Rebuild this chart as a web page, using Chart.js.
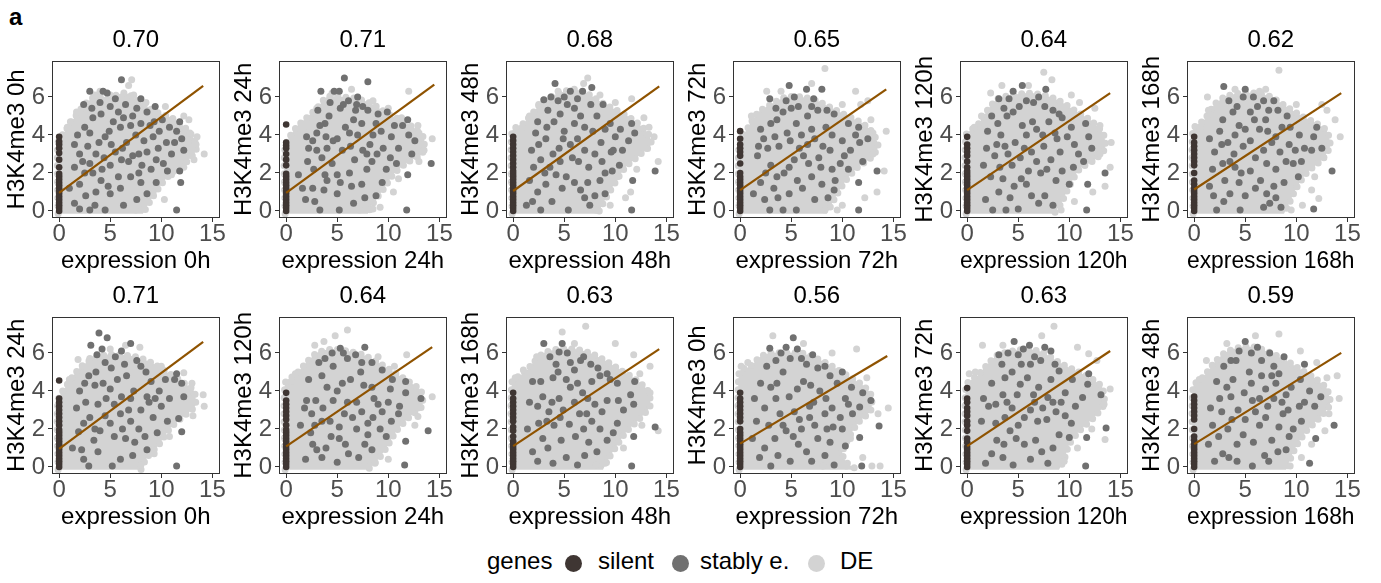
<!DOCTYPE html>
<html>
<head>
<meta charset="utf-8">
<script src="https://cdn.jsdelivr.net/npm/chart.js@4.4.0/dist/chart.umd.min.js"></script>
<style>
  body { margin: 0; background: #fff; width: 1381px; height: 583px; position: relative; overflow: hidden;
         font-family: "Liberation Sans", Arial, sans-serif; }
  canvas.panel { position: absolute; }
  .txt { position: absolute; font-size: 24px; line-height: 28px; color: #000; white-space: nowrap; }
  .dot { position: absolute; width: 17px; height: 17px; border-radius: 50%; }
</style>
</head>
<body>
<div class="txt" style="left:9px;top:3px;font-weight:bold">a</div>
<div id="panels"></div>
<div class="txt" style="left:487px;top:547px">genes</div>
<div class="dot" style="left:565px;top:555px;background:#3F3633"></div>
<div class="txt" style="left:598px;top:547px">silent</div>
<div class="dot" style="left:672px;top:555px;background:#707070"></div>
<div class="txt" style="left:700px;top:547px">stably e.</div>
<div class="dot" style="left:808px;top:555px;background:#D3D3D3"></div>
<div class="txt" style="left:840px;top:547px">DE</div>
<script>
// correlation shown above each panel, row by row
const corr = ['0.70', '0.71', '0.68', '0.65', '0.64', '0.62', '0.71', '0.64', '0.63', '0.56', '0.63', '0.59']
const markLabels = ['H3K4me3 0h', 'H3K4me3 24h', 'H3K4me3 48h', 'H3K4me3 72h', 'H3K4me3 120h', 'H3K4me3 168h',
  'H3K4me3 24h', 'H3K4me3 120h', 'H3K4me3 168h', 'H3K4me3 0h', 'H3K4me3 72h', 'H3K4me3 48h']
const exprLabels = ['expression 0h', 'expression 24h', 'expression 48h', 'expression 72h', 'expression 120h', 'expression 168h',
  'expression 0h', 'expression 24h', 'expression 48h', 'expression 72h', 'expression 120h', 'expression 168h']
const xTicks = [0, 5, 10, 15]
const yTicks = [0, 2, 4, 6]

// linear fit: value at x = 0, last x, value at last x
const fitStart = [0.95, 0.95, 1.05, 1.1, 1.1, 1.13, 0.95, 1.08, 1.1, 1.23, 1.1, 1.2]
const fitEndX = [14.1, 14.5, 14.3, 14.3, 14.0, 14.4, 14.1, 14.3, 14.3, 14.4, 14.0, 14.4]
const fitEndY = [6.58, 6.65, 6.55, 6.4, 6.2, 6.2, 6.58, 6.3, 6.2, 5.84, 6.1, 6.0]

// dense body of the DE genes (outline, x/y pairs)
const core0 = [-0.1, -0.15, -0.1, 3.6, 0.6, 4.2, 1.5, 4.9, 2.5, 5.6, 3.5, 6.0, 5, 6.0, 6.5, 6.2, 8, 5.7, 9.5, 5.2, 11, 4.9, 12.3, 4.4, 13.2, 3.8, 13.4, 3.2, 12.5, 2.6, 11, 2.0, 10, 1.4, 9, 0.6, 8.2, -0.15]
const core1 = [-0.1, -0.15, -0.1, 3.4, 1, 4.4, 2, 4.9, 3, 5.4, 4, 6.0, 5.5, 6.0, 7, 5.9, 8.5, 5.6, 10, 5.1, 11.5, 4.7, 12.7, 4.3, 13.5, 3.8, 13.3, 3.0, 12, 2.6, 10.6, 2.0, 9.6, 1.2, 8.5, 0.4, 8, -0.15]
const core2 = [-0.1, -0.15, -0.1, 4.2, 1, 4.6, 2, 5.2, 3, 5.8, 4.5, 6.2, 6, 6.4, 7.5, 6.1, 9, 5.6, 10.5, 5.2, 12, 4.7, 13.2, 4.1, 13.5, 3.5, 12.5, 3.0, 11, 2.3, 10, 1.5, 9, 0.6, 8.3, -0.15]
const core3 = [-0.1, -0.15, -0.1, 3.4, 0.8, 4.4, 1.8, 5.2, 3, 5.6, 4.5, 6.0, 6, 6.0, 7.5, 5.8, 9, 5.4, 10.5, 5.0, 12, 4.6, 13, 4.1, 13.5, 3.4, 12.8, 2.8, 11.5, 2.3, 10.2, 1.5, 9.2, 0.6, 8.5, -0.15]
const core4 = [-0.1, -0.15, -0.1, 4.0, 1, 4.5, 2, 5.3, 3, 5.9, 4.5, 6.1, 6, 6.2, 7.5, 6.1, 9, 5.8, 10.5, 5.3, 12, 4.8, 13.3, 4.1, 13.5, 3.3, 12.5, 2.7, 11, 2.2, 10, 1.3, 9.2, 0.4, 8.5, -0.15]
const core5 = [-0.1, -0.15, -0.1, 4.3, 1, 4.8, 2, 5.6, 3, 6.0, 4.5, 6.2, 6, 6.2, 7.5, 6.0, 9, 5.5, 10.5, 5.0, 12, 4.6, 13, 4.2, 13.3, 3.4, 12.5, 2.7, 11, 2.0, 10, 1.2, 9.3, 0.4, 8.8, -0.15]
const core6 = [-0.1, -0.15, -0.1, 3.5, 1, 4.5, 2, 5.2, 3, 5.6, 4.5, 5.9, 6, 5.9, 7.5, 5.8, 9, 5.5, 10.5, 5.0, 12, 4.5, 13.2, 4.0, 13.3, 3.2, 12, 2.6, 10.8, 2.0, 9.8, 1.2, 8.6, 0.5, 8, -0.15]
const core7 = [-0.1, -0.15, -0.1, 4.4, 1, 4.9, 2, 5.5, 3, 6.0, 4.5, 6.2, 6, 6.1, 7.5, 5.9, 9, 5.5, 10.5, 5.0, 12, 4.5, 13.2, 4.0, 13.3, 3.2, 12, 2.6, 10.8, 1.9, 9.8, 1.0, 9, 0.4, 8, -0.15]
const core8 = [-0.1, -0.15, -0.1, 4.5, 1, 4.9, 2, 5.5, 3, 6.0, 4.5, 6.2, 6, 6.2, 7.5, 6.0, 9, 5.6, 10.5, 5.1, 12, 4.6, 13.2, 4.0, 13.4, 3.2, 12.3, 2.5, 11, 1.8, 10, 1.0, 9.3, 0.4, 8.8, -0.15]
const core9 = [-0.1, -0.15, -0.1, 5.0, 1, 5.3, 2, 5.8, 3, 6.0, 4.5, 6.0, 6, 6.0, 7.5, 5.7, 9, 5.3, 10.5, 4.8, 12, 4.3, 12.8, 3.8, 12.8, 3.0, 11.5, 2.3, 10.5, 1.4, 10, 0.7, 10.5, 0.2, 11.5, -0.15]
const core10 = [-0.1, -0.15, -0.1, 4.3, 1, 4.8, 2, 5.4, 3, 5.9, 4.5, 6.1, 6, 6.2, 7.5, 6.0, 9, 5.5, 10.5, 5.1, 12, 4.7, 13.2, 4.2, 13.4, 3.3, 12.4, 2.6, 11, 1.9, 10, 1.2, 9.5, 0.4, 9, -0.15]
const core11 = [-0.1, -0.15, -0.1, 4.2, 1, 4.8, 2, 5.5, 3, 6.0, 4.5, 6.3, 6, 6.3, 7.5, 6.0, 9, 5.6, 10.5, 5.1, 12, 4.6, 13, 4.1, 13.3, 3.3, 12.3, 2.6, 11, 1.9, 10, 1.1, 9.4, 0.4, 9, -0.15]

// stably expressed genes (x/y pairs)
const stable0 = [6.1, 6.9, 3.0, 6.3, 4.3, 6.3, 4.7, 6.2, 5.5, 5.9, 8.0, 5.9, 9.4, 5.5, 9.3, 4.7, 11.8, 4.7, 11.5, 4.2, 12.0, 3.8, 12.2, 3.2, 11.3, 3.6, 11.8, 2.1, 11.9, 1.5, 11.5, 0.05, 10.2, 2.5, 10.5, 3.6, 8.9, 4.5, 7.5, 4.0, 6.6, 3.6, 5.0, 2.4, 4.4, 2.8, 3.6, 3.0, 3.0, 2.5, 2.5, 2.0, 2.0, 1.4, 1.5, 2.3, 1.0, 1.2, 3.5, 0.3, 4.5, 0.05, 5.0, 0.9, 6.3, 0.3, 7.0, 1.8, 8.0, 1.5, 5.8, 5.2, 7.2, 5.0, 2.5, 4.4, 3.3, 4.9, 4.1, 5.1, 6.0, 4.4, 4.9, 4.2, 5.5, 3.1, 6.8, 2.6, 7.8, 3.0, 9.7, 3.3, 9.0, 2.2, 8.1, 2.4, 5.8, 1.8, 4.1, 1.6, 3.0, 0.05, 2.0, 0.1, 1.5, 3.5, 10.8, 4.4, 9.8, 4.2, 8.0, 4.6, 2.4, 5.6,
  3.2, 5.4, 4.0, 5.7, 5.0, 5.5, 6.5, 5.6, 7.6, 5.4, 8.6, 5.2, 2.0, 3.0, 2.8, 3.4, 3.9, 3.6, 4.5, 3.9, 5.3, 4.7, 6.3, 4.9, 7.0, 4.5, 8.3, 3.7, 9.2, 3.9, 10.1, 4.8, 11.0, 3.0, 10.6, 2.1, 9.5, 1.5, 8.6, 0.9, 7.6, 0.6, 6.0, 1.2, 4.8, 1.3, 3.6, 1.0, 2.6, 0.8, 1.5, 0.4, 2.3, 2.6, 3.3, 2.0, 4.2, 2.2, 6.1, 2.7, 7.2, 2.9, 8.6, 3.1, 6.2, 3.3, 5.1, 3.5, 3.0, 4.1, 1.8, 4.0, 7.8, 2.0, 9.5, 2.7]
const stable1 = [5.7, 7.0, 8.0, 6.8, 3.4, 6.3, 4.7, 6.3, 5.2, 6.3, 7.0, 6.0, 6.1, 5.8, 7.5, 5.5, 5.3, 5.4, 4.2, 5.0, 6.6, 4.8, 3.0, 4.1, 11.9, 4.8, 11.4, 4.5, 12.0, 4.0, 12.6, 3.7, 10.3, 3.9, 12.3, 3.0, 14.2, 2.5, 11.9, 1.9, 11.8, 0.05, 9.8, 2.2, 9.5, 3.3, 8.2, 3.5, 7.0, 4.0, 5.5, 3.2, 4.5, 2.5, 3.5, 2.8, 1.2, 1.9, 2.6, 1.2, 5.0, 0.9, 5.2, 0.05, 3.3, 0.05, 7.4, 1.4, 8.4, 2.6, 6.2, 2.0, 3.8, 4.6, 2.6, 3.7, 5.8, 4.4, 8.8, 4.6, 9.9, 5.2, 6.8, 5.3, 4.6, 3.7, 2.1, 2.6, 1.9, 0.6, 4.0, 1.6, 6.6, 0.4, 7.9, 3.0,
  3.1, 5.3, 4.3, 5.7, 5.6, 5.6, 6.9, 5.6, 8.0, 5.3, 9.0, 5.1, 2.2, 3.3, 3.0, 3.2, 3.9, 3.9, 5.0, 3.8, 6.2, 4.1, 7.4, 4.6, 8.5, 4.0, 9.3, 4.2, 10.6, 4.5, 11.0, 3.3, 10.8, 2.5, 9.4, 1.5, 8.8, 0.8, 7.7, 0.7, 6.4, 1.3, 5.3, 1.5, 3.7, 1.1, 2.8, 0.5, 1.6, 1.2, 2.7, 2.2, 3.8, 1.9, 5.0, 1.9, 6.7, 2.7, 7.5, 3.2, 8.9, 3.0, 6.3, 3.4, 4.0, 3.3, 2.0, 3.9, 3.3, 4.5, 7.9, 2.2, 10.2, 2.8]
const stable2 = [4.1, 6.7, 5.6, 6.3, 7.7, 6.5, 3.0, 5.85, 5.3, 5.6, 6.0, 5.4, 4.6, 5.1, 4.0, 4.7, 6.6, 5.0, 7.0, 4.4, 2.2, 4.1, 3.2, 3.8, 4.5, 3.3, 5.6, 3.5, 2.7, 2.7, 3.6, 2.3, 4.2, 1.9, 5.2, 1.8, 6.4, 2.6, 7.4, 2.3, 8.0, 3.0, 9.6, 3.1, 11.6, 4.6, 11.3, 3.7, 11.9, 4.1, 13.9, 2.1, 11.7, 1.6, 11.6, 0.05, 9.7, 2.1, 8.5, 1.6, 6.6, 1.1, 3.8, 0.5, 2.7, 0.05, 5.4, 0.05, 9.0, 0.9, 1.6, 1.6, 8.8, 5.6, 9.0, 4.3, 10.0, 3.9, 5.0, 4.2, 3.7, 6.0, 6.8, 6.3, 1.9, 0.5, 7.5, 0.3,
  3.4, 5.3, 4.4, 5.8, 5.0, 6.0, 6.3, 5.9, 7.6, 5.6, 8.2, 5.0, 1.8, 3.2, 2.5, 3.5, 3.9, 3.0, 4.9, 3.8, 6.0, 4.6, 7.8, 4.2, 8.6, 3.6, 9.5, 4.6, 10.5, 4.3, 10.7, 3.2, 10.4, 2.4, 9.0, 2.0, 8.0, 0.8, 7.0, 0.7, 6.0, 1.5, 4.8, 1.2, 3.2, 1.4, 2.4, 1.0, 1.3, 0.3, 2.0, 2.3, 3.1, 2.0, 4.6, 2.6, 5.8, 2.8, 7.0, 3.2, 8.7, 2.6, 6.3, 3.8, 3.3, 4.4, 2.4, 4.7, 7.3, 1.5, 9.8, 3.2]
const stable3 = [4.8, 6.6, 2.9, 5.9, 5.3, 6.0, 6.5, 6.4, 8.0, 6.4, 5.7, 5.5, 4.2, 5.2, 6.6, 5.0, 9.2, 5.1, 2.3, 3.8, 3.4, 3.9, 4.6, 4.1, 5.8, 3.3, 3.0, 2.4, 4.3, 2.0, 5.3, 2.7, 6.7, 2.5, 2.0, 1.5, 3.3, 1.2, 4.8, 0.9, 2.9, 0.05, 4.2, 0.05, 5.5, 0.05, 8.0, 1.4, 9.3, 1.6, 9.8, 2.5, 10.0, 3.7, 11.3, 4.0, 11.6, 4.4, 11.7, 3.6, 12.0, 2.6, 13.4, 2.1, 11.6, 1.5, 11.6, 0.05, 9.2, 1.1, 12.5, 3.8, 6.0, 4.0, 7.3, 3.8, 7.0, 1.8, 1.7, 2.9, 7.6, 5.3, 3.6, 4.8, 8.4, 4.4,
  3.5, 5.4, 4.5, 5.8, 5.0, 5.4, 7.2, 5.9, 7.0, 5.5, 8.5, 5.3, 1.8, 3.4, 2.7, 3.3, 3.8, 3.4, 4.9, 3.7, 5.5, 4.6, 7.0, 4.3, 8.1, 3.4, 9.0, 4.0, 10.6, 4.6, 10.8, 3.2, 10.6, 2.2, 9.0, 2.2, 8.6, 0.7, 7.3, 0.6, 6.1, 1.2, 5.6, 1.6, 3.7, 0.7, 2.4, 0.6, 1.3, 0.9, 2.5, 2.0, 3.6, 1.8, 4.8, 2.3, 6.2, 2.9, 7.7, 2.8, 8.8, 3.2, 6.6, 3.5, 3.0, 4.6, 2.0, 4.3, 7.9, 2.3, 10.2, 2.9]
const stable4 = [4.5, 6.3, 5.4, 6.6, 3.1, 5.9, 7.7, 6.4, 7.0, 6.0, 5.8, 5.8, 4.5, 5.2, 9.0, 5.1, 9.3, 4.9, 2.0, 4.2, 3.3, 4.0, 5.8, 4.0, 6.8, 4.3, 2.7, 2.9, 4.0, 3.0, 5.2, 2.8, 6.3, 3.1, 7.5, 3.4, 8.2, 2.7, 10.5, 3.5, 11.6, 4.6, 11.9, 3.9, 12.2, 3.3, 11.4, 2.6, 13.5, 2.0, 11.8, 1.4, 11.7, 0.05, 8.4, 0.3, 2.5, 0.05, 3.8, 0.05, 5.0, 0.1, 4.2, 0.7, 5.8, 1.4, 3.5, 1.7, 2.3, 1.8, 7.2, 2.0, 9.3, 2.1, 10.0, 1.4, 6.3, 0.8, 3.9, 5.0, 8.0, 4.7,
  3.6, 5.4, 4.1, 5.9, 5.1, 5.5, 6.5, 5.7, 7.6, 5.5, 8.4, 5.3, 1.9, 3.3, 2.9, 3.5, 3.7, 3.4, 4.7, 3.6, 5.4, 4.5, 6.4, 4.7, 7.4, 4.0, 8.8, 3.8, 10.2, 4.4, 10.9, 3.0, 10.4, 2.3, 8.7, 1.6, 7.6, 0.8, 7.0, 0.4, 5.3, 1.7, 4.6, 1.3, 3.1, 1.0, 1.8, 0.6, 1.6, 2.4, 3.2, 2.3, 4.4, 2.4, 5.6, 3.3, 6.8, 2.6, 7.8, 2.2, 9.1, 3.1, 6.0, 2.1, 3.0, 4.6, 2.4, 5.0, 8.6, 4.1, 9.8, 3.9]
const stable5 = [2.9, 6.55, 5.0, 6.4, 4.8, 6.0, 6.8, 5.8, 7.8, 5.8, 9.1, 5.0, 3.8, 5.2, 5.5, 5.2, 4.4, 4.5, 2.5, 4.2, 1.5, 3.8, 3.3, 3.6, 5.5, 3.7, 6.4, 4.3, 7.6, 3.6, 8.4, 3.1, 2.8, 2.5, 4.0, 2.3, 5.5, 2.1, 6.5, 1.6, 7.8, 1.3, 9.0, 2.6, 9.7, 2.5, 10.5, 2.6, 11.5, 3.2, 11.7, 3.9, 12.0, 4.4, 12.5, 3.3, 13.5, 2.1, 11.7, 0.1, 6.8, 0.2, 8.5, 0.2, 2.2, 0.05, 4.5, 0.05, 3.5, 0.9, 5.0, 0.8, 1.5, 1.3, 7.0, 4.8, 8.6, 4.4, 10.3, 4.0, 3.0, 1.6,
  3.4, 5.8, 4.2, 5.5, 5.8, 6.0, 6.2, 5.5, 7.3, 5.3, 8.2, 5.3, 2.0, 3.1, 2.7, 3.5, 3.9, 3.0, 4.8, 3.4, 5.0, 4.3, 5.9, 4.8, 7.2, 4.2, 8.0, 3.9, 9.4, 4.4, 10.8, 3.3, 10.2, 1.8, 8.8, 1.5, 8.0, 0.7, 7.1, 0.9, 6.0, 1.2, 4.4, 1.5, 2.9, 0.5, 1.9, 0.8, 1.8, 2.2, 3.5, 2.6, 4.6, 2.0, 6.0, 2.8, 7.1, 2.5, 8.0, 2.2, 9.3, 3.5, 6.8, 3.2, 2.8, 4.8, 4.0, 4.0, 9.9, 3.2, 7.4, 0.4]
const stable6 = [3.9, 7.05, 4.7, 6.8, 3.1, 6.4, 7.0, 6.5, 5.5, 5.8, 6.4, 5.4, 4.5, 5.5, 2.9, 4.8, 3.5, 4.3, 5.0, 4.1, 2.0, 4.0, 4.6, 3.6, 5.4, 3.3, 7.3, 4.0, 8.0, 3.0, 9.2, 2.6, 10.0, 3.2, 3.0, 2.6, 4.0, 1.9, 5.0, 2.3, 1.9, 1.85, 2.2, 0.9, 3.8, 0.8, 2.9, 0.05, 5.2, 0.05, 6.0, 0.4, 7.4, 1.3, 8.4, 1.6, 11.5, 4.9, 12.0, 4.4, 11.3, 4.6, 12.2, 3.7, 11.7, 2.55, 12.0, 1.85, 11.5, 0.05, 9.0, 4.5, 9.8, 4.0, 8.5, 5.0, 6.2, 2.0, 6.8, 3.0,
  3.7, 5.9, 4.2, 6.2, 5.1, 5.2, 6.1, 6.1, 7.6, 5.6, 8.0, 5.3, 1.7, 3.1, 2.6, 3.4, 3.8, 3.3, 4.3, 4.4, 5.7, 4.6, 6.6, 4.8, 7.0, 3.6, 8.6, 3.7, 10.4, 4.6, 10.8, 3.6, 10.6, 2.4, 9.6, 1.8, 8.6, 0.9, 7.2, 0.6, 6.5, 1.5, 5.4, 1.6, 3.4, 1.4, 2.4, 0.4, 1.3, 1.0, 2.4, 2.3, 3.5, 2.0, 4.5, 2.7, 6.0, 2.8, 7.0, 2.4, 8.8, 3.4, 6.1, 3.7, 2.5, 4.4, 3.6, 5.0, 7.8, 2.0, 9.4, 3.6]
const stable7 = [5.3, 6.25, 7.7, 6.3, 4.5, 6.0, 6.0, 5.7, 9.4, 5.1, 11.7, 4.5, 13.2, 3.6, 11.7, 3.9, 11.1, 3.2, 13.9, 1.9, 11.7, 1.35, 11.6, 0.1, 9.8, 1.6, 7.1, 0.5, 5.0, 0.25, 3.5, 0.5, 1.9, 0.4, 3.0, 0.9, 1.8, 3.1, 2.9, 3.5, 4.0, 4.2, 5.0, 4.0, 6.3, 4.6, 7.3, 5.0, 3.5, 2.4, 5.2, 2.1, 6.5, 2.6, 7.4, 2.9, 8.5, 2.6, 9.4, 2.9, 5.8, 1.2, 4.4, 1.6, 3.2, 5.5, 8.4, 4.2, 10.2, 4.1, 2.4, 1.8,
  3.8, 5.7, 4.6, 5.3, 5.6, 6.0, 6.8, 5.9, 7.4, 5.5, 8.4, 5.5, 2.0, 3.5, 2.5, 2.8, 3.6, 3.1, 4.6, 3.5, 5.5, 4.4, 6.0, 3.4, 7.6, 4.3, 8.6, 3.6, 10.4, 4.6, 11.0, 2.8, 10.3, 2.4, 9.2, 2.0, 8.4, 0.9, 7.7, 1.2, 6.1, 0.7, 5.2, 1.5, 3.9, 1.0, 2.6, 1.2, 1.4, 2.2, 2.8, 2.2, 4.3, 2.4, 5.7, 2.8, 6.9, 2.0, 8.0, 2.3, 9.0, 3.3, 6.9, 3.4, 2.2, 4.6, 3.5, 4.8, 8.0, 1.7, 10.0, 3.4]
const stable8 = [3.0, 6.5, 4.5, 6.05, 4.8, 6.5, 6.9, 5.8, 6.6, 5.6, 5.6, 5.5, 9.2, 4.9, 11.9, 4.5, 11.5, 3.8, 11.8, 3.3, 13.9, 2.1, 11.8, 1.6, 11.6, 0.05, 9.8, 1.8, 7.4, 1.3, 3.9, 0.2, 1.9, 0.8, 5.2, 0.5, 2.9, 1.5, 4.0, 2.2, 5.5, 2.25, 6.5, 2.8, 7.7, 2.4, 8.7, 2.9, 3.5, 2.9, 2.9, 3.7, 4.5, 3.6, 5.6, 4.2, 6.8, 3.9, 1.9, 4.5, 3.9, 4.7, 7.7, 4.5, 10.3, 3.5, 8.3, 5.2, 6.3, 0.1,
  3.6, 5.8, 4.2, 5.4, 5.3, 6.0, 6.0, 5.1, 7.6, 5.4, 8.5, 4.8, 1.6, 3.4, 2.4, 3.2, 3.8, 3.4, 4.9, 3.0, 5.2, 4.6, 6.3, 4.4, 7.3, 3.6, 8.0, 3.3, 10.2, 4.4, 10.8, 3.0, 10.2, 2.3, 9.2, 1.4, 8.2, 0.8, 7.0, 0.6, 6.1, 1.6, 4.7, 1.4, 3.4, 1.0, 2.4, 0.3, 1.4, 2.0, 2.5, 2.3, 3.3, 2.4, 4.6, 2.6, 6.0, 3.4, 7.2, 2.8, 9.2, 3.5, 8.5, 2.0, 2.7, 4.5, 4.4, 5.0, 9.5, 4.6, 6.9, 2.0]
const stable9 = [5.2, 6.8, 4.5, 6.3, 2.9, 6.25, 4.9, 5.7, 6.0, 5.7, 7.1, 5.9, 8.3, 5.3, 10.0, 5.0, 10.9, 4.2, 12.0, 3.9, 11.7, 3.15, 12.8, 3.5, 13.6, 2.15, 11.7, 1.55, 11.9, 0.05, 9.2, 0.1, 10.3, 1.1, 9.0, 3.1, 7.8, 4.0, 6.2, 4.5, 4.2, 5.0, 3.0, 4.2, 2.4, 3.1, 3.9, 2.8, 5.3, 2.9, 4.5, 1.9, 3.4, 1.5, 2.4, 1.0, 3.0, 0.05, 4.9, 0.3, 6.5, 0.8, 7.6, 1.5, 9.8, 2.6, 11.0, 2.8, 1.6, 2.4, 6.0, 2.0, 8.5, 2.0,
  3.5, 5.6, 4.0, 6.0, 5.6, 6.2, 6.5, 5.4, 7.6, 5.2, 8.8, 4.8, 1.4, 3.6, 2.0, 4.4, 3.5, 3.6, 4.8, 3.7, 5.6, 4.1, 6.9, 4.3, 7.2, 3.4, 8.4, 3.6, 9.5, 4.4, 10.3, 3.6, 10.0, 2.0, 8.8, 1.3, 8.3, 0.6, 7.0, 0.3, 5.7, 1.2, 5.2, 1.6, 3.7, 0.6, 1.9, 0.5, 1.2, 1.5, 2.8, 2.2, 4.2, 2.2, 5.8, 2.5, 6.8, 2.6, 7.3, 2.2, 9.1, 2.1, 6.8, 3.2, 2.6, 5.3, 3.6, 4.4, 10.6, 3.3, 8.3, 2.8]
const stable10 = [4.6, 6.6, 3.1, 5.9, 5.5, 6.2, 6.1, 6.4, 7.6, 6.3, 8.2, 6.1, 6.6, 5.8, 5.3, 5.4, 4.4, 5.0, 9.0, 5.05, 11.9, 4.9, 11.8, 4.35, 11.3, 3.65, 13.1, 3.8, 13.6, 2.05, 11.7, 1.55, 11.6, 0.05, 10.0, 1.55, 8.7, 2.9, 7.9, 3.65, 6.5, 3.8, 5.2, 4.35, 3.5, 3.8, 2.1, 3.2, 4.4, 3.1, 5.6, 2.6, 6.9, 2.4, 4.2, 1.9, 2.9, 1.4, 5.6, 1.2, 7.3, 0.8, 3.5, 0.5, 1.8, 0.2, 4.5, 0.1, 7.9, 0.2, 9.6, 3.9,
  3.4, 5.4, 4.0, 6.0, 5.0, 5.9, 6.2, 5.4, 7.2, 5.6, 8.6, 5.4, 1.6, 3.6, 2.8, 3.3, 3.9, 3.4, 4.9, 3.8, 5.9, 4.7, 7.0, 4.2, 7.4, 3.1, 8.4, 3.4, 10.3, 4.6, 10.6, 3.2, 10.2, 2.3, 9.0, 1.7, 8.4, 1.0, 6.7, 1.4, 6.2, 0.4, 4.8, 1.5, 3.6, 1.2, 2.4, 0.7, 1.4, 2.4, 2.8, 2.3, 3.7, 2.6, 5.0, 2.2, 6.2, 3.0, 7.8, 2.5, 9.2, 3.4, 6.6, 3.4, 2.4, 4.4, 3.7, 4.7, 8.2, 4.6, 9.6, 2.7]
const stable11 = [4.4, 6.1, 7.4, 6.0, 8.8, 5.8, 2.9, 5.3, 5.4, 5.0, 5.0, 6.6, 6.2, 6.3, 3.8, 4.6, 6.6, 4.8, 8.0, 4.4, 10.8, 5.4, 11.3, 4.0, 11.8, 3.2, 12.4, 3.7, 13.7, 2.2, 11.9, 1.5, 11.3, 0.2, 9.7, 2.0, 8.7, 2.8, 7.2, 3.2, 5.7, 3.5, 4.3, 3.0, 2.5, 3.6, 1.8, 2.2, 3.3, 2.0, 4.8, 1.7, 6.4, 2.2, 7.6, 1.4, 2.8, 0.7, 4.2, 0.3, 5.7, 0.05, 6.9, 0.6, 9.0, 0.9, 10.3, 3.2, 9.5, 4.2, 1.4, 1.2,
  3.6, 5.6, 4.1, 5.6, 5.6, 6.0, 6.6, 5.6, 7.8, 5.3, 8.3, 4.9, 1.6, 3.1, 2.7, 2.9, 3.6, 3.7, 4.9, 3.9, 5.6, 4.4, 7.0, 4.1, 7.8, 3.6, 9.0, 3.8, 10.4, 4.6, 10.8, 3.4, 10.5, 2.4, 9.3, 1.6, 8.2, 0.8, 7.3, 0.3, 5.8, 1.3, 4.2, 1.2, 3.4, 0.5, 2.0, 0.3, 2.4, 1.6, 3.7, 2.5, 5.0, 2.5, 6.0, 2.9, 7.0, 2.6, 8.3, 2.1, 9.2, 3.0, 6.4, 3.6, 2.2, 4.5, 3.2, 4.2, 8.6, 3.4, 7.6, 4.8]

// DE genes lying outside the dense body (x/y pairs)
const de0 = [7.1, 6.9, 6.8, 6.6, 5.0, 6.1, 7.3, 6.1, 8.5, 5.7, 10.4, 5.5, 12.2, 5.0, 12.8, 4.1, 13.4, 3.5, 14.2, 3.0, 13.2, 2.7, 11.0, 1.9, 12.2, 2.3, 9.2, 1.0, 7.5, 0.05, 8.3, 0.1, 10.3, 0.6, 9.7, 1.6, 12.7, 4.8, 2.6, 5.5, 1.7, 5.2, 3.5, 6.1, 0.8, 4.4, 1.1, 4.7, 9.3, 5.3, 4.0, 6.3, 13.5, 3.9]
const de1 = [12.0, 6.3, 13.0, 4.1, 14.3, 3.8, 13.5, 3.2, 13.0, 2.6, 9.6, 1.6, 10.5, 1.0, 9.2, 0.2, 7.2, 0.05, 8.5, 0.1, 2.6, 4.8, 1.7, 4.2, 3.0, 5.4, 4.5, 6.2, 8.5, 5.8, 10.0, 5.4, 11.3, 4.9, 12.9, 4.5, 6.4, 6.4, 11.0, 1.7]
const de2 = [7.3, 7.0, 6.9, 6.7, 11.6, 5.9, 13.3, 4.4, 14.2, 2.6, 13.0, 3.3, 12.1, 2.2, 11.5, 1.0, 11.0, 0.7, 9.5, 0.3, 8.1, 0.05, 0.9, 4.4, 1.6, 5.0, 2.5, 5.6, 4.4, 6.3, 8.5, 6.1, 10.0, 5.7, 12.8, 4.9, 12.6, 3.8, 10.2, 1.8, 13.8, 3.9]
const de3 = [8.3, 7.5, 7.0, 6.7, 2.6, 6.3, 1.1, 5.0, 11.3, 6.3, 12.5, 5.8, 11.8, 5.6, 10.0, 5.6, 13.0, 4.1, 14.3, 4.2, 13.0, 3.0, 14.1, 2.1, 13.4, 1.0, 12.2, 0.7, 10.0, 0.3, 9.5, 0.05, 8.3, 0.05, 12.8, 4.8, 4.0, 6.3]
const de4 = [7.5, 7.3, 3.4, 6.6, 2.3, 6.2, 8.3, 6.9, 11.0, 5.7, 12.5, 5.4, 13.0, 4.5, 14.1, 3.6, 13.0, 3.0, 14.0, 2.3, 13.5, 1.3, 12.3, 1.0, 10.5, 0.5, 9.2, 0.05, 0.7, 4.4, 1.4, 5.0, 6.0, 6.6, 10.2, 6.1]
const de5 = [8.3, 7.4, 7.0, 6.4, 6.4, 6.3, 4.0, 6.4, 1.3, 6.0, 10.0, 5.6, 12.5, 5.6, 13.0, 5.3, 13.8, 4.8, 14.3, 3.9, 12.7, 2.8, 11.8, 1.8, 11.5, 1.1, 12.2, 0.66, 10.6, 0.3, 9.5, 0.05, 1.4, 5.3, 0.6, 4.4]
const de6 = [7.9, 6.3, 5.0, 6.2, 1.85, 5.65, 1.0, 4.6, 10.0, 5.3, 12.2, 4.95, 13.0, 4.4, 14.1, 3.8, 14.2, 3.2, 13.1, 2.7, 10.8, 1.6, 9.3, 0.7, 8.0, 0.1, 12.5, 3.9, 6.5, 6.4, 3.0, 5.7]
const de7 = [6.0, 7.2, 4.8, 6.9, 3.7, 6.6, 2.8, 6.4, 11.8, 5.9, 0.9, 4.9, 0.5, 4.5, 12.9, 3.1, 14.3, 3.7, 12.9, 2.65, 12.6, 2.2, 10.0, 0.4, 8.7, 0.2, 7.7, 0.1, 12.6, 3.6, 9.0, 5.8, 10.6, 5.3]
const de8 = [7.1, 7.4, 4.8, 7.1, 6.0, 6.5, 10.0, 6.5, 11.8, 5.9, 13.4, 5.3, 13.4, 3.9, 14.2, 1.9, 12.6, 2.2, 10.8, 1.0, 9.0, 0.2, 8.1, 0.1, 0.2, 4.7, 1.0, 5.1, 2.3, 5.8, 12.4, 4.9]
const de9 = [3.2, 6.9, 6.2, 6.5, 0.1, 5.3, 0.75, 5.5, 11.4, 6.2, 12.4, 4.7, 14.5, 3.1, 13.7, 0.05, 12.9, 0.05, 10.8, 1.5, 9.3, 0.9, 8.1, 0.05, 10.4, 0.05, 13.5, 2.8, 12.0, 0.5, 9.0, 6.0]
const de10 = [8.5, 7.4, 7.3, 6.9, 1.5, 6.4, 10.8, 6.3, 11.9, 5.95, 12.7, 5.6, 14.0, 4.1, 13.4, 3.3, 13.5, 1.45, 12.2, 2.0, 10.8, 1.0, 9.5, 0.3, 0.2, 4.9, 0.8, 5.0, 3.5, 6.4]
const de11 = [8.3, 7.0, 6.0, 6.9, 3.2, 6.5, 1.2, 5.6, 10.4, 6.1, 12.0, 5.5, 13.0, 4.7, 14.2, 3.6, 13.2, 2.8, 12.8, 1.9, 11.5, 1.2, 10.5, 0.5, 9.4, 0.05, 0.5, 4.6, 14.0, 4.8]

// silent genes all sit at expression 0: only the mark value is kept
const silent0 = [0, 0.15, 0.3, 0.45, 0.6, 0.75, 0.9, 1.05, 1.2, 1.35, 1.5, 1.65, 1.8, 1.95, 2.3, 2.7, 3.05, 3.3, 3.5, 3.65, 3.9]
const silent1 = [0, 0.15, 0.3, 0.45, 0.6, 0.75, 0.9, 1.05, 1.2, 1.35, 1.5, 1.65, 1.8, 1.95, 2.4, 2.7, 3.0, 3.3, 3.45, 3.6, 4.55]
const silent2 = [0, 0.15, 0.3, 0.45, 0.6, 0.75, 0.9, 1.05, 1.2, 1.35, 1.5, 1.65, 1.8, 1.95, 2.1, 2.3, 2.5, 2.7, 2.9, 3.1, 3.3, 3.5, 3.7, 3.9]
const silent3 = [0, 0.15, 0.3, 0.45, 0.6, 0.75, 0.9, 1.05, 1.2, 1.35, 1.5, 1.65, 1.8, 2.0, 2.5, 2.9, 3.1, 3.3, 3.5, 3.8, 4.2]
const silent4 = [0, 0.15, 0.3, 0.45, 0.6, 0.75, 0.9, 1.05, 1.2, 1.35, 1.5, 1.65, 1.8, 1.95, 2.1, 2.3, 2.6, 2.9, 3.1, 3.3, 3.5, 3.9]
const silent5 = [0, 0.15, 0.3, 0.45, 0.6, 0.75, 0.9, 1.05, 1.2, 1.4, 1.6, 2.0, 2.4, 2.6, 2.8, 3.0, 3.2, 3.4, 3.6, 3.9]
const silent6 = [0, 0.15, 0.3, 0.45, 0.6, 0.75, 0.9, 1.05, 1.2, 1.35, 1.5, 1.65, 1.8, 1.95, 2.2, 2.4, 2.6, 2.8, 3.0, 3.2, 3.4, 3.6, 4.55]
const silent7 = [0, 0.15, 0.3, 0.45, 0.6, 0.75, 0.9, 1.05, 1.2, 1.35, 1.5, 1.65, 1.8, 1.95, 2.2, 2.5, 2.7, 2.9, 3.1, 3.3, 3.5, 3.9]
const silent8 = [0, 0.15, 0.3, 0.45, 0.6, 0.75, 0.9, 1.05, 1.2, 1.35, 1.6, 1.9, 2.1, 2.4, 2.6, 2.8, 3.0, 3.2, 3.4, 3.6, 3.9]
const silent9 = [0, 0.15, 0.3, 0.45, 0.6, 0.75, 0.9, 1.05, 1.2, 1.35, 1.5, 1.65, 1.8, 2.0, 2.4, 2.6, 2.8, 3.0, 3.2, 3.4, 3.6, 3.9]
const silent10 = [0, 0.15, 0.3, 0.45, 0.6, 0.75, 0.9, 1.05, 1.3, 1.5, 1.9, 2.2, 2.4, 2.7, 2.9, 3.1, 3.4, 3.6, 4.15]
const silent11 = [0, 0.15, 0.3, 0.45, 0.6, 0.75, 0.9, 1.05, 1.2, 1.4, 1.6, 2.0, 2.5, 2.7, 2.9, 3.1, 3.3, 3.5, 3.7]

const cores = [core0, core1, core2, core3, core4, core5, core6, core7, core8, core9, core10, core11]
const stables = [stable0, stable1, stable2, stable3, stable4, stable5, stable6, stable7, stable8, stable9, stable10, stable11]
const des = [de0, de1, de2, de3, de4, de5, de6, de7, de8, de9, de10, de11]
const silents = [silent0, silent1, silent2, silent3, silent4, silent5, silent6, silent7, silent8, silent9, silent10, silent11]

const colSilent = '#3F3633'
const colStable = '#707070'
const colDE = '#D3D3D3'
const colFit = '#8F5300'

Chart.defaults.font.family = '"Liberation Sans", Arial, sans-serif'

function pairs (flat) {
  const out = []
  for (let i = 0; i < flat.length; i += 2) out.push({ x: flat[i], y: flat[i + 1] })
  return out
}

// ggplot style box round the plot area
const panelBox = {
  id: 'panelBox',
  afterDraw (chart) {
    const a = chart.chartArea
    const ctx = chart.ctx
    ctx.save()
    ctx.strokeStyle = '#333333'
    ctx.lineWidth = 1
    ctx.strokeRect(Math.round(a.left) + 0.5, Math.round(a.top) + 0.5, Math.round(a.right - a.left) - 1, Math.round(a.bottom - a.top) - 1)
    ctx.restore()
  }
}

const holder = document.getElementById('panels')

for (let i = 0; i < 12; i++) {
  const row = Math.floor(i / 6)
  const col = i % 6
  const canvas = document.createElement('canvas')
  canvas.className = 'panel'
  canvas.width = 226
  canvas.height = 256
  canvas.style.left = (col * 227) + 'px'
  canvas.style.top = (20 + row * 256) + 'px'
  holder.appendChild(canvas)

  new Chart(canvas, {
    type: 'scatter',
    data: {
      datasets: [
        {
          data: [{ x: 0, y: fitStart[i] }, { x: fitEndX[i], y: fitEndY[i] }],
          showLine: true, borderColor: colFit, borderWidth: 2.2, pointRadius: 0, order: 0
        },
        { data: silents[i].map(v => ({ x: 0, y: v })), backgroundColor: colSilent, pointRadius: 3.3, borderWidth: 0, order: 1 },
        { data: pairs(stables[i]), backgroundColor: colStable, pointRadius: 3.5, borderWidth: 0, order: 2 },
        { data: pairs(des[i]), backgroundColor: colDE, pointRadius: 3.5, borderWidth: 0, order: 3 },
        {
          // filled body with a beaded rim, so the edge reads as a row of dots
          data: pairs(cores[i]), showLine: true, fill: 'shape', tension: 0.25,
          backgroundColor: colDE, borderColor: colDE, borderWidth: 7,
          borderDash: [0, 8], borderCapStyle: 'round', pointRadius: 0, order: 4
        }
      ]
    },
    options: {
      responsive: false,
      animation: false,
      events: [],
      layout: { padding: { top: 0, right: 5, bottom: 0, left: 0 } },
      plugins: {
        legend: { display: false },
        tooltip: { enabled: false },
        title: {
          display: true, fullSize: false, text: corr[i], color: '#000',
          font: { size: 24, weight: 'normal' }, padding: { top: 6, bottom: 6 }
        }
      },
      scales: {
        x: {
          type: 'linear', min: -0.7, max: 15.7,
          afterBuildTicks: s => { s.ticks = xTicks.map(v => ({ value: v })) },
          afterFit: s => { s.height = 58 },
          grid: { drawOnChartArea: false, drawTicks: true, tickLength: 4, color: '#333333' },
          border: { display: false },
          ticks: { color: '#4D4D4D', font: { size: 24, lineHeight: 1 }, padding: 0, maxRotation: 0, autoSkip: false },
          title: { display: true, text: exprLabels[i], color: '#000', font: { size: 24 }, padding: { top: 0, bottom: 0 } }
        },
        y: {
          type: 'linear', min: -0.37, max: 7.9,
          afterBuildTicks: s => { s.ticks = yTicks.map(v => ({ value: v })) },
          afterFit: s => { s.width = 52 },
          grid: { drawOnChartArea: false, drawTicks: true, tickLength: 4, color: '#333333' },
          border: { display: false },
          ticks: { color: '#4D4D4D', font: { size: 24, lineHeight: 1 }, padding: 3, autoSkip: false },
          title: { display: true, text: markLabels[i], color: '#000', font: { size: 24 }, padding: { top: 3, bottom: 0 } }
        }
      }
    },
    plugins: [panelBox]
  })
}
</script>
</body>
</html>
